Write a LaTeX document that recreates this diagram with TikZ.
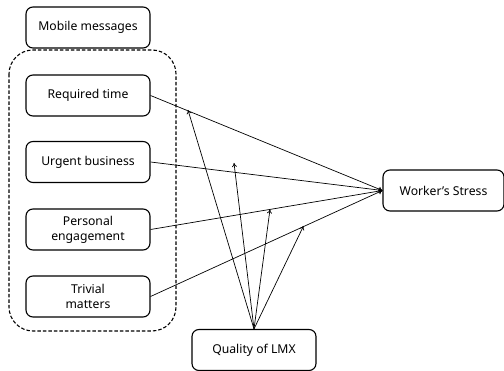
\documentclass[tikz,border=0pt]{standalone}
\usepackage{fontspec}
\setmainfont{Noto Sans}
\usetikzlibrary{arrows.meta}
\begin{document}
\begin{tikzpicture}[x=1pt,y=-1pt,
  box/.style={draw,line width=1.1pt,rounded corners=7pt,minimum width=124pt,minimum height=41pt,inner sep=0pt,align=center,font=\fontsize{12.2}{15}\selectfont},
  conn/.style={line width=0.7pt,-{To[length=4pt,width=5pt]}}]
\useasboundingbox (0,0) rectangle (504,371);
\draw[line width=1.1pt,dashed,dash pattern=on 3.5pt off 2pt,rounded corners=24pt] (9,50) rectangle (176,331);
\node[box] (mm) at (88,27.5) {Mobile messages};
\node[box] (rt) at (88,95.5) {Required time};
\node[box] (ub) at (88,162) {Urgent business};
\node[box] (pe) at (88,229.5) {Personal\\engagement};
\node[box] (tm) at (88,296.5) {Trivial\\matters};
\node[box,minimum width=121pt] (ws) at (443.5,190.5) {Worker’s Stress};
\node[box] (lmx) at (254,350) {Quality of LMX};
\coordinate (m1) at (188,110);
\coordinate (m2) at (234,163);
\coordinate (m3) at (270,209.5);
\coordinate (m4) at (303.5,226);
\draw[conn] (rt.east) -- (ws.west);
\draw[conn] (ub.east) -- (ws.west);
\draw[conn] (pe.east) -- (ws.west);
\draw[conn] (tm.east) -- (ws.west);
\draw[conn] (lmx.north) -- (m1);
\draw[conn] (lmx.north) -- (m2);
\draw[conn] (lmx.north) -- (m3);
\draw[conn] (lmx.north) -- (m4);
\end{tikzpicture}
\end{document}
